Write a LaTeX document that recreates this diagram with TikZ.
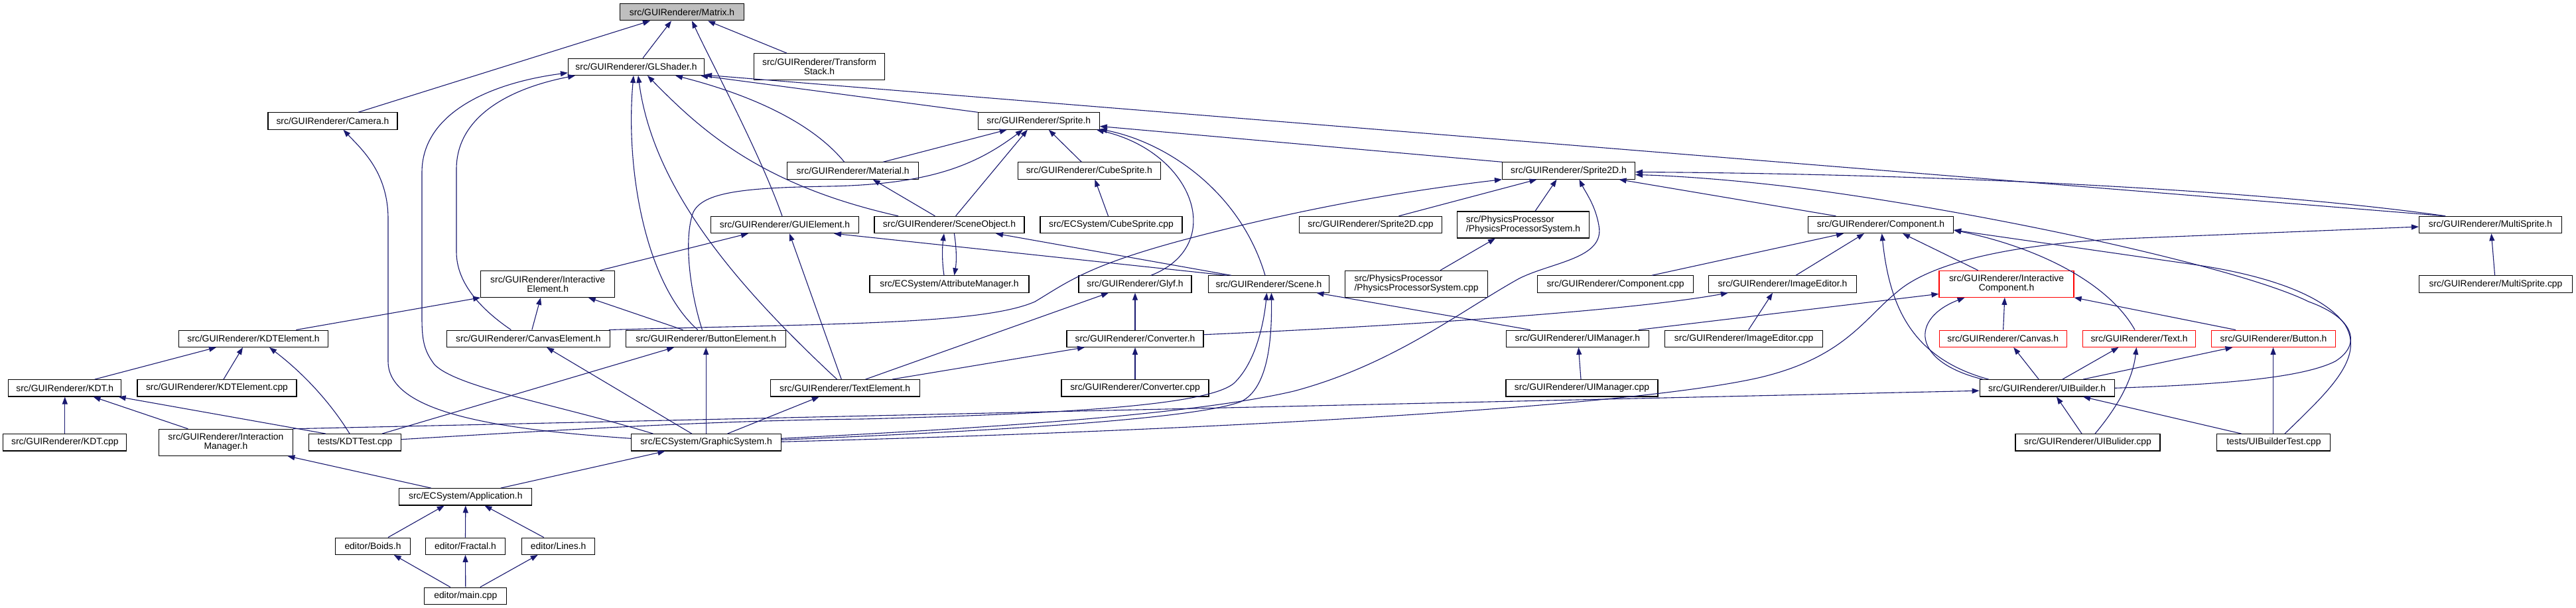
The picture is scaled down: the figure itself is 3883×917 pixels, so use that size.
\documentclass[tikz,border=0pt]{standalone}
\usepackage{fontspec}
\setmainfont{Liberation Sans}
\usetikzlibrary{arrows.meta,calc}
\definecolor{edgec}{HTML}{191970}
\definecolor{hl}{HTML}{BFBFBF}
\definecolor{truncc}{HTML}{FF0000}
\begin{document}
\begin{tikzpicture}[x=1pt,y=-1pt,
  nd/.style={draw=black, line width=1.1pt, fill=white, inner sep=0pt, minimum height=25.3pt, align=center, font=\fontsize{13.9}{14}\selectfont},
  nd2/.style={nd, minimum height=40pt},
  trunc/.style={draw=truncc},
  e/.style={draw=edgec, line width=1.1pt, -{Triangle[length=11pt,width=8pt]}}]
\fill[white] (0,0) rectangle (3883,917);
\path[use as bounding box] (0,0) rectangle (3883,917);

% nodes
\node[nd,fill=hl,minimum width=187pt] (M) at (1028,18.3) {src/GUIRenderer/Matrix.h};
\node[nd,minimum width=205pt] (GL) at (959,100.8) {src/GUIRenderer/GLShader.h};
\node[nd2,minimum width=197pt] (TS) at (1235,100.7) {src/GUIRenderer/Transform\\Stack.h};
\node[nd,minimum width=195pt] (Cam) at (501.5,182.5) {src/GUIRenderer/Camera.h};
\node[nd,minimum width=183pt] (Spr) at (1565.8,182.5) {src/GUIRenderer/Sprite.h};
\node[nd,minimum width=198pt] (Mat) at (1285.7,257.5) {src/GUIRenderer/Material.h};
\node[nd,minimum width=215pt] (CS) at (1641.8,257.5) {src/GUIRenderer/CubeSprite.h};
\node[nd,minimum width=200pt] (S2D) at (2364.5,257.5) {src/GUIRenderer/Sprite2D.h};
\node[nd,minimum width=223pt] (GUIE) at (1183,339) {src/GUIRenderer/GUIElement.h};
\node[nd,minimum width=226pt] (SO) at (1431,339) {src/GUIRenderer/SceneObject.h};
\node[nd,minimum width=214pt] (CSc) at (1675,339) {src/ECSystem/CubeSprite.cpp};
\node[nd,minimum width=215pt] (S2Dc) at (2066,339) {src/GUIRenderer/Sprite2D.cpp};
\node[nd2,minimum width=199pt,align=left] (PPS) at (2296,339) {src/PhysicsProcessor\\/PhysicsProcessorSystem.h};
\node[nd,minimum width=219pt] (Comp) at (2835,339) {src/GUIRenderer/Component.h};
\node[nd,minimum width=215pt] (MS) at (3754,339) {src/GUIRenderer/MultiSprite.h};
\node[nd2,minimum width=202pt] (IE) at (825.7,428.3) {src/GUIRenderer/Interactive\\Element.h};
\node[nd,minimum width=240pt] (AM) at (1431,428.5) {src/ECSystem/AttributeManager.h};
\node[nd,minimum width=170pt] (Gly) at (1711,428.5) {src/GUIRenderer/Glyf.h};
\node[nd,minimum width=182pt] (Sc) at (1912.5,428.5) {src/GUIRenderer/Scene.h};
\node[nd2,minimum width=215pt,align=left] (PPSc) at (2135,428.3) {src/PhysicsProcessor\\/PhysicsProcessorSystem.cpp};
\node[nd,minimum width=235pt] (Compc) at (2435,428.5) {src/GUIRenderer/Component.cpp};
\node[nd,minimum width=223pt] (IEd) at (2687,428.5) {src/GUIRenderer/ImageEditor.h};
\node[nd2,trunc,minimum width=203pt] (IC) at (3024.5,428.3) {src/GUIRenderer/Interactive\\Component.h};
\node[nd,minimum width=231pt] (MSc) at (3762,428.5) {src/GUIRenderer/MultiSprite.cpp};
\node[nd,minimum width=225pt] (KDTE) at (382,510.7) {src/GUIRenderer/KDTElement.h};
\node[nd,minimum width=246pt] (CE) at (796.4,510.7) {src/GUIRenderer/CanvasElement.h};
\node[nd,minimum width=241pt] (BE) at (1064.2,510.7) {src/GUIRenderer/ButtonElement.h};
\node[nd,minimum width=206pt] (Conv) at (1711,510.7) {src/GUIRenderer/Converter.h};
\node[nd,minimum width=215pt] (UIM) at (2377.9,510.7) {src/GUIRenderer/UIManager.h};
\node[nd,minimum width=237.5pt] (IEdc) at (2628.6,510.7) {src/GUIRenderer/ImageEditor.cpp};
\node[nd,trunc,minimum width=192pt] (Can) at (3019.2,510.7) {src/GUIRenderer/Canvas.h};
\node[nd,trunc,minimum width=170.5pt] (Txt) at (3224.5,510.7) {src/GUIRenderer/Text.h};
\node[nd,trunc,minimum width=187pt] (Btn) at (3427,510.7) {src/GUIRenderer/Button.h};
\node[nd,minimum width=170pt] (KDT) at (97.8,585.3) {src/GUIRenderer/KDT.h};
\node[nd,minimum width=240pt] (KDTEc) at (327,585.3) {src/GUIRenderer/KDTElement.cpp};
\node[nd,minimum width=225pt] (TE) at (1273.6,585.3) {src/GUIRenderer/TextElement.h};
\node[nd,minimum width=222pt] (Convc) at (1711,585.3) {src/GUIRenderer/Converter.cpp};
\node[nd,minimum width=229pt] (UIMc) at (2384.5,585.3) {src/GUIRenderer/UIManager.cpp};
\node[nd,minimum width=203pt] (UIB) at (3085.6,585.3) {src/GUIRenderer/UIBuilder.h};
\node[nd,minimum width=186pt] (KDTc) at (97.8,667.3) {src/GUIRenderer/KDT.cpp};
\node[nd2,minimum width=202pt] (IM) at (340.4,667.3) {src/GUIRenderer/Interaction\\Manager.h};
\node[nd,minimum width=139pt] (KT) at (535,667.3) {tests/KDTTest.cpp};
\node[nd,minimum width=226pt] (GS) at (1064.5,667.3) {src/ECSystem/GraphicSystem.h};
\node[nd,minimum width=218pt] (UIBc) at (3147,667.3) {src/GUIRenderer/UIBulider.cpp};
\node[nd,minimum width=171pt] (UIBT) at (3427.4,667.3) {tests/UIBuilderTest.cpp};
\node[nd,minimum width=200pt] (App) at (701.8,749.3) {src/ECSystem/Application.h};
\node[nd,minimum width=112.5pt] (Boids) at (562,823.7) {editor/Boids.h};
\node[nd,minimum width=120pt] (Frac) at (701.5,823.7) {editor/Fractal.h};
\node[nd,minimum width=110pt] (Lines) at (841.7,823.7) {editor/Lines.h};
\node[nd,minimum width=124pt] (Main) at (701.8,898.7) {editor/main.cpp};

% edges into Matrix.h
\draw[e] ($(Cam.north)+(38.5,0)$) -- ($(M.south)+(-48,0)$);
\draw[e] ($(GL.north)+(10,0)$) -- ($(M.south)+(-16,0)$);
\draw[e] ($(GUIE.north)+(-4,0)$) .. controls (1145,230) and (1075,100) .. ($(M.south)+(15,0)$);
\draw[e] ($(TS.north)+(-49,0)$) -- ($(M.south)+(39,0)$);

% edges into GLShader.h
\draw[e] ($(GS.north)+(-80,0)$) .. controls (840,610) and (690,585) .. (655,550) .. controls (640,530) and (636,515) .. (636,480) -- (636,260) .. controls (636,170) and (740,125) .. ($(GL.west)+(0,9)$);
\draw[e] ($(CE.north)+(-26,0)$) .. controls (730,470) and (688,430) .. (688,380) -- (688,255) .. controls (688,180) and (760,135) .. ($(GL.south)+(-92,0)$);
\draw[e] ($(BE.north)+(-12.4,0)$) .. controls (975,430) and (942,260) .. ($(GL.south)+(-4,0)$);
\draw[e] ($(TE.north)+(-12,0)$) .. controls (1120,440) and (985,290) .. ($(GL.south)+(3,0)$);
\draw[e] ($(SO.north)+(-77,0)$) .. controls (1150,280) and (1060,200) .. ($(GL.south)+(17,0)$);
\draw[e] ($(Mat.north)+(-13,0)$) .. controls (1220,180) and (1120,140) .. ($(GL.south)+(59,0)$);
\draw[e] ($(MS.north)+(-68,0)$) -- ($(GL.south east)+(0,-1)$);
\draw[e] (Spr.north west) -- ($(GL.south east)+(-6,0)$);

% edges into Sprite.h
\draw[e] ($(Mat.north)+(45.5,0)$) -- ($(Spr.south)+(-48,0)$);
\draw[e] ($(BE.north)+(-5.7,0)$) .. controls (1040,440) and (1030,360) .. (1045,320) .. controls (1060,290) and (1120,283) .. (1250,281) .. controls (1400,278) and (1470,250) .. ($(Spr.south)+(-24,0)$);
\draw[e] ($(SO.north)+(9.6,0)$) -- ($(Spr.south)+(-17,0)$);
\draw[e] ($(CS.north)+(-11.5,0)$) -- ($(Spr.south)+(15,0)$);
\draw[e] ($(Gly.north)+(24,0)$) .. controls (1850,370) and (1800,230) .. ($(Spr.south east)+(-5,0)$);
\draw[e] ($(Sc.north)+(-5.5,0)$) .. controls (1870,290) and (1760,215) .. ($(Spr.south east)+(0,-1)$);
\draw[e] (S2D.north west) -- ($(Spr.east)+(0,8)$);

% Material, CubeSprite, SceneObject, GUIElement
\draw[e] ($(SO.north)+(-21.6,0)$) -- ($(Mat.south)+(30,0)$);
\draw[e] ($(CSc.north)+(-4.5,0)$) -- ($(CS.south)+(8.6,0)$);
\draw[e] ($(AM.north)+(-8,0)$) .. controls (1420,395) and (1420,375) .. ($(SO.south)+(-8,0)$);
\draw[e] ($(SO.south)+(7.4,0)$) .. controls (1442,375) and (1442,395) .. ($(AM.north)+(7.4,0)$);
\draw[e] ($(Sc.north)+(-56.7,0)$) -- ($(SO.south)+(70,0)$);
\draw[e] ($(Sc.north)+(-63.5,0)$) -- ($(GUIE.south)+(74,0)$);
\draw[e] ($(IE.north)+(78.7,0)$) -- ($(GUIE.south)+(-55,0)$);
\draw[e] ($(TE.north)+(-5.3,0)$) -- ($(GUIE.south)+(7,0)$);

% InteractiveElement.h
\draw[e] ($(KDTE.north)+(64.4,0)$) -- (IE.south west);
\draw[e] ($(CE.north)+(5.4,0)$) -- ($(IE.south)+(-10.7,0)$);
\draw[e] ($(BE.north)+(-34.7,0)$) -- ($(IE.south)+(61,0)$);

% Sprite2D.h
\draw[e] ($(CE.north east)+(-2,0)$) .. controls (1250,488) and (1480,490) .. (1560,455) .. controls (1610,425) and (1640,400) .. (1791,360) .. controls (1950,318) and (2100,290) .. (S2D.south west);
\draw[e] ($(S2Dc.north)+(42.5,0)$) -- ($(S2D.south)+(-48,0)$);
\draw[e] ($(PPS.north)+(18,0)$) -- ($(S2D.south)+(-18,0)$);
\draw[e] ($(GS.east)+(0,-6)$) .. controls (1500,645) and (1800,625) .. (1950,590) .. controls (2100,550) and (2200,470) .. (2290,420) .. controls (2340,395) and (2420,390) .. (2410,340) .. controls (2405,310) and (2390,290) .. ($(S2D.south)+(16,0)$);
\draw[e] ($(Comp.north)+(-67.6,0)$) -- ($(S2D.south)+(76,0)$);
\draw[e] ($(MS.north)+(-68,0)$) .. controls (3400,285) and (2900,262) .. ($(S2D.east)+(0,2)$);
\draw[e] (UIB.east) .. controls (3350,580) and (3470,570) .. (3520,545) .. controls (3560,520) and (3550,480) .. (3480,455) .. controls (3380,405) and (3000,320) .. (2700,282) .. controls (2600,270) and (2520,265) .. ($(S2D.east)+(0,6)$);

% PhysicsProcessor
\draw[e] ($(PPSc.north)+(36,0)$) -- ($(PPS.south)+(-42,0)$);

% Component.h
\draw[e] ($(Compc.north)+(55,0)$) -- ($(Comp.south)+(-56,0)$);
\draw[e] ($(IEd.north)+(20,0)$) -- ($(Comp.south)+(-25,0)$);
\draw[e] ($(UIB.north)+(-88,0)$) .. controls (2880,540) and (2848,460) .. ($(Comp.south)+(1.6,0)$);
\draw[e] ($(IC.north)+(-42.8,0)$) -- ($(Comp.south)+(33,0)$);
\draw[e] ($(Txt.north)+(-6.5,0)$) .. controls (3180,430) and (3080,375) .. ($(Comp.east)+(0,8)$);
\draw[e] ($(UIBT.north)+(16.6,0)$) .. controls (3510,590) and (3565,540) .. (3535,490) .. controls (3500,440) and (3400,412) .. (3300,398) -- ($(Comp.east)+(0,8)$);

% MultiSprite.h
\draw[e] ($(MSc.north)+(-1.4,0)$) -- ($(MS.south)+(1.4,0)$);
\draw[e] ($(GS.east)+(0,-1)$) .. controls (1800,650) and (2450,615) .. (2650,570) .. controls (2780,540) and (2810,480) .. (2860,440) .. controls (2900,405) and (3000,370) .. (3200,360) -- ($(MS.west)+(0,3)$);

% InteractiveComponent.h
\draw[e] ($(UIM.north)+(92,0)$) -- ($(IC.west)+(0,15)$);
\draw[e] ($(UIB.north)+(-97,0)$) .. controls (2880,545) and (2880,480) .. ($(IC.south)+(-63,0)$);
\draw[e] ($(Can.north)+(0.4,0)$) -- ($(IC.south)+(-2.7,0)$);
\draw[e] ($(Btn.north)+(-57,0)$) -- (IC.south east);

% ImageEditor.h
\draw[e] ($(Conv.east)+(0,-6)$) .. controls (2100,492) and (2450,470) .. ($(IEd.south west)+(30,0)$);
\draw[e] ($(IEdc.north)+(7,0)$) -- ($(IEd.south)+(-15,0)$);

% Glyf / Converter
\draw[e] (Conv.north) -- (Gly.south);
\draw[e] ($(TE.north)+(31,0)$) -- ($(Gly.south)+(-40,0)$);
\draw[e] ($(TE.north)+(71,0)$) -- ($(Conv.south)+(-76,0)$);
\draw[e] (Convc.north) -- (Conv.south);

% Scene.h
\draw[e] ($(UIM.north)+(-71,0)$) -- ($(Sc.south)+(72,0)$);
\draw[e] ($(KT.east)+(0,-4.6)$) .. controls (900,645) and (1100,634) .. (1300,632) .. controls (1600,624) and (1820,612) .. (1860,578) .. controls (1895,545) and (1906,480) .. ($(Sc.south)+(-3,0)$);
\draw[e] ($(GS.east)+(0,-4)$) .. controls (1500,650) and (1800,632) .. (1870,606) .. controls (1915,585) and (1917,500) .. ($(Sc.south)+(4,0)$);

% UIManager
\draw[e] ($(UIMc.north)+(-1.5,0)$) -- ($(UIM.south)+(1.5,0)$);

% UIBuilder.h and its targets
\draw[e] (IM.north east) -- ($(UIB.west)+(0,4)$);
\draw[e] ($(UIB.north)+(-12.4,0)$) -- ($(Can.south)+(16,0)$);
\draw[e] ($(UIB.north)+(23.3,0)$) -- ($(Txt.south)+(-31,0)$);
\draw[e] ($(UIB.north)+(54.4,0)$) -- ($(Btn.south)+(-61.5,0)$);
\draw[e] ($(UIBc.north)+(-9,0)$) -- ($(UIB.south)+(14.4,0)$);
\draw[e] ($(UIBc.north)+(11,0)$) .. controls (3195,610) and (3215,570) .. ($(Txt.south)+(-4,0)$);
\draw[e] ($(UIBT.north)+(-48.8,0)$) -- ($(UIB.south)+(54.4,0)$);
\draw[e] ($(UIBT.north)+(-0.9,0)$) -- ($(Btn.south)+(-0.5,0)$);

% KDT area
\draw[e] ($(KDT.north)+(45,0)$) -- ($(KDTE.south)+(-56,0)$);
\draw[e] ($(KDTEc.north)+(10,0)$) -- ($(KDTE.south)+(-16,0)$);
\draw[e] ($(KT.north)+(-8,0)$) .. controls (500,610) and (460,565) .. ($(KDTE.south)+(24,0)$);
\draw[e] (KDTc.north) -- (KDT.south);
\draw[e] ($(IM.north)+(-57,0)$) -- ($(KDT.south)+(42.8,0)$);
\draw[e] ($(KT.north)+(-44,0)$) -- ($(KDT.south)+(80.8,0)$);
\draw[e] ($(KT.north)+(41,0)$) -- ($(BE.south)+(-48,0)$);

% GraphicSystem.h
\draw[e] ($(GS.west)+(0,-6)$) .. controls (760,648) and (585,625) .. (585,545) -- (585,330) .. controls (585,260) and (545,225) .. ($(Cam.south)+(16,0)$);
\draw[e] ($(GS.north)+(-21.7,0)$) -- ($(CE.south)+(27.7,0)$);
\draw[e] ($(GS.north)+(-0.3,0)$) -- (BE.south);
\draw[e] ($(GS.north)+(32,0)$) -- ($(TE.south)+(-38.8,0)$);

% Application / editor
\draw[e] ($(App.north)+(-52,0)$) -- ($(IM.south)+(93,0)$);
\draw[e] ($(App.north)+(53,0)$) -- ($(GS.south)+(-62,0)$);
\draw[e] ($(Boids.north)+(23,0)$) -- ($(App.south)+(-32,0)$);
\draw[e] (Frac.north) -- (App.south);
\draw[e] ($(Lines.north)+(-22,0)$) -- ($(App.south)+(28.6,0)$);
\draw[e] ($(Main.north)+(-23,0)$) -- ($(Boids.south)+(31.7,0)$);
\draw[e] (Main.north) -- (Frac.south);
\draw[e] ($(Main.north)+(22,0)$) -- ($(Lines.south)+(-31,0)$);
\end{tikzpicture}
\end{document}
